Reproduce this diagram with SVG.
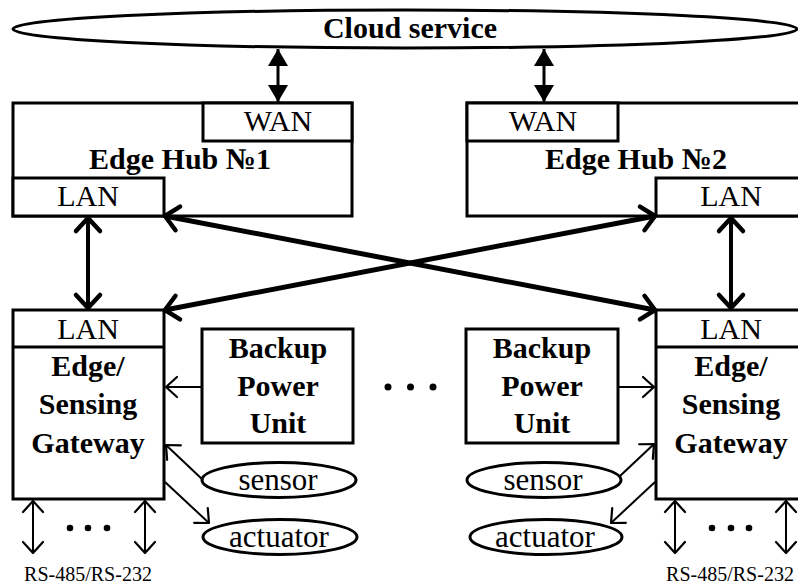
<svg xmlns="http://www.w3.org/2000/svg" width="798" height="585" viewBox="0 0 798 585">
  <style>
    .box { fill: #fff; stroke: #000; stroke-width: 3; }
    .ell { fill: #fff; stroke: #000; stroke-width: 3; }
    .t { font-family: "Liberation Serif", "Times New Roman", serif; fill: #000; text-anchor: middle; }
    .b { font-weight: bold; font-size: 30px; }
    .r { font-size: 30px; }
    .lg { font-size: 31px; }
    .small { font-size: 20px; }
    .thick { stroke: #000; stroke-width: 5; fill: none; }
    .mid { stroke: #000; stroke-width: 4; fill: none; }
    .cloudlink { stroke: #000; stroke-width: 3; fill: none; }
    .thin { stroke: #000; stroke-width: 2; fill: none; }
    .dot { fill: #000; }
  </style>
  <defs>
    <marker id="tri" markerUnits="userSpaceOnUse" viewBox="-18 -11 20 22" refX="0" refY="0" markerWidth="20" markerHeight="22" orient="auto-start-reverse">
      <path d="M0,0 L-17,-10 L-17,10 Z" fill="#000"/>
    </marker>
    <marker id="chevBig" markerUnits="userSpaceOnUse" viewBox="-18 -16 22 32" refX="0" refY="0" markerWidth="22" markerHeight="32" orient="auto-start-reverse">
      <path d="M-13,-12 L0,0 L-13,12" fill="none" stroke="#000" stroke-width="4.5" stroke-linecap="round" stroke-linejoin="round"/>
    </marker>
    <marker id="chev" markerUnits="userSpaceOnUse" viewBox="-14 -13 17 26" refX="0" refY="0" markerWidth="17" markerHeight="26" orient="auto-start-reverse">
      <path d="M-11,-10 L0,0 L-11,10" fill="none" stroke="#000" stroke-width="2.2" stroke-linecap="round" stroke-linejoin="round"/>
    </marker>
  </defs>

  <!-- cloud -->
  <g id="cloud">
    <ellipse class="ell" cx="405" cy="29" rx="392" ry="19"/>
    <text class="t b" x="410" y="38">Cloud service</text>
  </g>

  <!-- hubs -->
  <g id="hub1">
    <rect class="box" x="13" y="103" width="339" height="113"/>
    <rect class="box" x="203" y="103" width="149" height="38"/>
    <rect class="box" x="13" y="178" width="151" height="38"/>
    <text class="t r" x="278" y="131">WAN</text>
    <text class="t b" x="180" y="169">Edge Hub №1</text>
    <text class="t r" x="88" y="206">LAN</text>
  </g>
  <g id="hub2">
    <rect class="box" x="467" y="103" width="345" height="113"/>
    <rect class="box" x="467" y="103" width="151" height="38"/>
    <rect class="box" x="656" y="178" width="156" height="38"/>
    <text class="t r" x="543" y="131">WAN</text>
    <text class="t b" x="636" y="169">Edge Hub №2</text>
    <text class="t r" x="731" y="206">LAN</text>
  </g>

  <!-- gateways -->
  <g id="gateway1">
    <rect class="box" x="13" y="310" width="151" height="189"/>
    <line x1="13" y1="347" x2="164" y2="347" stroke="#000" stroke-width="3"/>
    <text class="t r" x="88" y="339">LAN</text>
    <text class="t b" x="88" y="376">Edge/</text>
    <text class="t b" x="88" y="414">Sensing</text>
    <text class="t b" x="88" y="453">Gateway</text>
  </g>
  <g id="gateway2">
    <rect class="box" x="656" y="310" width="156" height="189"/>
    <line x1="656" y1="347" x2="812" y2="347" stroke="#000" stroke-width="3"/>
    <text class="t r" x="731" y="339">LAN</text>
    <text class="t b" x="731" y="376">Edge/</text>
    <text class="t b" x="731" y="414">Sensing</text>
    <text class="t b" x="731" y="453">Gateway</text>
  </g>

  <!-- backup power units -->
  <g id="backup1">
    <rect class="box" x="202" y="329" width="151" height="114"/>
    <text class="t b" x="278" y="358">Backup</text>
    <text class="t b" x="278" y="396">Power</text>
    <text class="t b" x="278" y="433">Unit</text>
  </g>
  <g id="backup2">
    <rect class="box" x="466" y="329" width="152" height="114"/>
    <text class="t b" x="542" y="358">Backup</text>
    <text class="t b" x="542" y="396">Power</text>
    <text class="t b" x="542" y="433">Unit</text>
  </g>

  <!-- sensors and actuators -->
  <g id="sensor1">
    <ellipse class="ell" cx="279" cy="480" rx="77" ry="17.5"/>
    <text class="t lg" x="278" y="490">sensor</text>
  </g>
  <g id="actuator1">
    <ellipse class="ell" cx="280" cy="537" rx="77" ry="17.5"/>
    <text class="t lg" x="279" y="547">actuator</text>
  </g>
  <g id="sensor2">
    <ellipse class="ell" cx="544" cy="480" rx="77" ry="17.5"/>
    <text class="t lg" x="543" y="490">sensor</text>
  </g>
  <g id="actuator2">
    <ellipse class="ell" cx="546" cy="537" rx="76" ry="17.5"/>
    <text class="t lg" x="545" y="547">actuator</text>
  </g>

  <!-- ellipsis marks and bus label -->
  <g id="dots-mid">
    <circle class="dot" cx="388" cy="387" r="3.5"/>
    <circle class="dot" cx="410.5" cy="387" r="3.5"/>
    <circle class="dot" cx="433" cy="387" r="3.5"/>
  </g>
  <g id="bus1">
    <circle class="dot" cx="70" cy="528" r="3.3"/>
    <circle class="dot" cx="88" cy="528" r="3.3"/>
    <circle class="dot" cx="107" cy="528" r="3.3"/>
    <text class="t small" x="88" y="581">RS-485/RS-232</text>
  </g>
  <g id="bus2">
    <circle class="dot" cx="712" cy="528" r="3.3"/>
    <circle class="dot" cx="731" cy="528" r="3.3"/>
    <circle class="dot" cx="749" cy="528" r="3.3"/>
    <text class="t small" x="730" y="581">RS-485/RS-232</text>
  </g>

  <!-- connectors -->
  <g id="connectors">
    <line class="cloudlink" x1="278" y1="49" x2="278" y2="102" marker-start="url(#tri)" marker-end="url(#tri)"/>
    <line class="cloudlink" x1="544" y1="49" x2="544" y2="102" marker-start="url(#tri)" marker-end="url(#tri)"/>

    <line class="mid" x1="88" y1="218" x2="88" y2="308" marker-start="url(#chevBig)" marker-end="url(#chevBig)"/>
    <line class="mid" x1="731" y1="218" x2="731" y2="308" marker-start="url(#chevBig)" marker-end="url(#chevBig)"/>

    <line class="thick" x1="165" y1="216" x2="655" y2="310" marker-start="url(#chevBig)" marker-end="url(#chevBig)"/>
    <line class="thick" x1="655" y1="216" x2="165" y2="310" marker-start="url(#chevBig)" marker-end="url(#chevBig)"/>

    <line class="thin" x1="202" y1="387" x2="166" y2="387" marker-end="url(#chev)"/>
    <line class="thin" x1="618" y1="387" x2="654" y2="387" marker-end="url(#chev)"/>

    <line class="thin" x1="203" y1="480" x2="166" y2="445" marker-end="url(#chev)"/>
    <line class="thin" x1="165" y1="482" x2="209" y2="523" marker-end="url(#chev)"/>
    <line class="thin" x1="620" y1="476" x2="654" y2="444" marker-end="url(#chev)"/>
    <line class="thin" x1="655" y1="482" x2="611" y2="523" marker-end="url(#chev)"/>

    <line class="thin" x1="33" y1="501" x2="33" y2="553" marker-start="url(#chev)" marker-end="url(#chev)"/>
    <line class="thin" x1="145" y1="501" x2="145" y2="553" marker-start="url(#chev)" marker-end="url(#chev)"/>
    <line class="thin" x1="675" y1="501" x2="675" y2="553" marker-start="url(#chev)" marker-end="url(#chev)"/>
    <line class="thin" x1="786" y1="501" x2="786" y2="553" marker-start="url(#chev)" marker-end="url(#chev)"/>
  </g>
</svg>
